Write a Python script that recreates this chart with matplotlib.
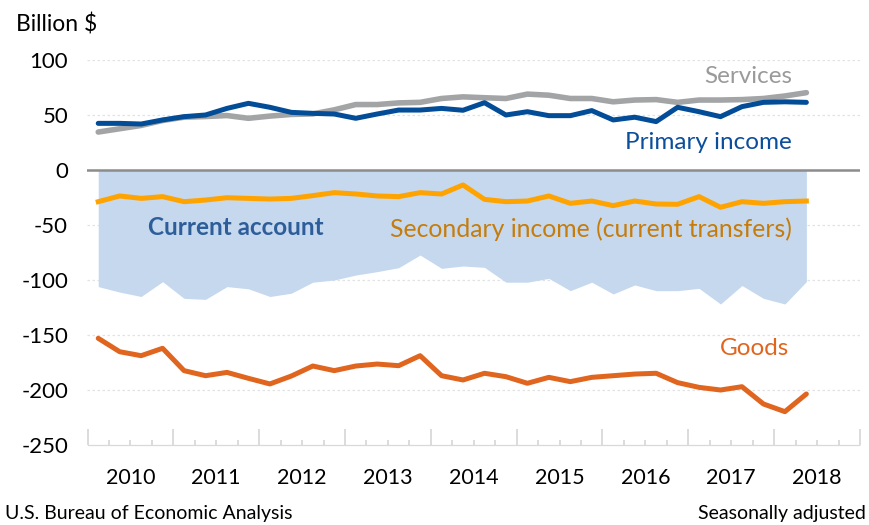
import numpy as np
import matplotlib
matplotlib.use("Agg")
import matplotlib.pyplot as plt
import matplotlib.transforms as mtransforms

plt.rcParams['font.family'] = ['Lato', 'DejaVu Sans']

# quarterly data, 2010Q1 .. 2018Q2 (billion $)
years = [2010, 2011, 2012, 2013, 2014, 2015, 2016, 2017, 2018]
services = [34.5, 37.5, 40.5, 45, 48, 48.6, 49.5, 47, 49, 50.5, 51, 54.7,
            59.5, 59.5, 61, 61.5, 65, 66.5, 65.7, 65, 69, 68, 65, 65,
            62, 63.6, 64, 61.5, 63.6, 63.6, 64, 65, 67.3, 70.3]
primary = [42.4, 42.4, 41.8, 45.5, 48.5, 50, 56, 60.6, 57, 52.4, 51.5, 50.9,
           47, 50.9, 54.5, 54.5, 56, 54.3, 61.2, 50, 53, 49.4, 49.4, 54,
           45.5, 48, 44, 57, 53, 48.5, 57.6, 61.5, 62, 61.5]
secondary = [-28.8, -23.6, -25.8, -24.2, -28.8, -27.3, -25.2, -25.8, -26.4, -25.8, -23.3, -20.6,
             -21.8, -23.6, -24.2, -20.6, -21.8, -13.6, -26.7, -28.8, -28.2, -23.6, -30.3, -28.2,
             -32.4, -28.2, -30.9, -31.2, -24.2, -33.9, -28.8, -30.3, -28.8, -28.2]
goods = [-153, -165.2, -168.8, -162.1, -182.4, -187, -184, -189.4, -194.5, -187.3, -178.2, -182.4,
         -178.2, -176.4, -177.9, -168.8, -187, -190.9, -184.8, -187.9, -193.9, -188.5, -192.4, -188.5,
         -187, -185.5, -184.8, -193.3, -197.6, -200, -197, -212.7, -219.7, -203.6]
current = [-106, -111, -115, -101.5, -116.7, -117.6, -106, -108, -115, -112, -102, -100,
           -95.5, -92.4, -88.8, -77.3, -89.4, -87.3, -88.5, -102, -102, -98.5, -109.7, -102,
           -112.7, -104.5, -109.7, -109.7, -107.6, -121.8, -105, -116.7, -121.8, -101.5]

x = np.arange(len(services))

fig = plt.figure(figsize=(8.7, 5.25), dpi=100)
ax = fig.add_axes([87.5 / 870, 1 - 445 / 525, (860 - 87.5) / 870, 385 / 525])

# shaded current account
ax.fill_between(x, 0, current, color='#C5D8EE', lw=0, zorder=1)

# grid and zero line
for v in [100, 50, -50, -100, -150, -200]:
    ax.axhline(v, color='#E2E2E2', lw=0.9, ls=(0, (2, 2)), zorder=0)
ax.axhline(0, color='#8C8C8C', lw=1.8, zorder=2)

ax.plot(x, secondary, color='#FFA300', lw=3.6, zorder=3)
ax.plot(x, services, color='#A2A4A5', lw=4.0, zorder=3, solid_capstyle='round')
ax.plot(x, primary, color='#034C97', lw=3.6, zorder=4, solid_capstyle='round')
ax.plot(x, goods, color='#E0651E', lw=3.6, zorder=3, solid_capstyle='round')

ax.set_xlim(-0.5, 35.5)
ax.set_ylim(-250, 100)

for s in ['left', 'right', 'top']:
    ax.spines[s].set_visible(False)
ax.spines['bottom'].set_color('#D9D9D9')
ax.spines['bottom'].set_linestyle((0, (2, 1)))
ax.spines['bottom'].set_linewidth(0.9)

ax.set_yticks([100, 50, 0, -50, -100, -150, -200, -250])
ax.set_yticklabels(['100', '50', '0', '-50', '-100', '-150', '-200', '-250'])
ax.tick_params(axis='y', length=0, pad=14, labelsize=16, labelcolor='#000000')

ax.set_xticks(np.arange(-0.5, 36, 4))
ax.set_xticks(np.arange(-0.5, 36, 1), minor=True)
ax.set_xticklabels([])
ax.tick_params(axis='x', which='major', direction='in', length=11.5, width=1.3, color='#D9D9D9')
ax.tick_params(axis='x', which='minor', direction='in', length=3.8, width=1.3, color='#D9D9D9')

trans = mtransforms.blended_transform_factory(ax.transData, ax.transAxes)
for k, yr in enumerate(years):
    ax.text(4 * k + 1.5, -0.087, str(yr), transform=trans, ha='center', va='center',
            fontsize=15.5, color='#000000')

# series labels
ax.text(32.33, 85, 'Services', ha='right', va='center', fontsize=17.5, color='#9A9A9A')
ax.text(32.3, 24.8, 'Primary income', ha='right', va='center', fontsize=17.5, color='#0B4E9C')
ax.text(2.34, -52.5, 'Current account', ha='left', va='center', fontsize=17.5,
        color='#2E5E9A', fontweight='bold')
ax.text(32.33, -53.5, 'Secondary income (current transfers)', ha='right', va='center',
        fontsize=17.8, color='#C57C0A')
ax.text(32.2, -162, 'Goods', ha='right', va='center', fontsize=17.5, color='#E0651E')

fig.text(16 / 870, 1 - 25 / 525, 'Billion $', ha='left', va='center', fontsize=16.5)
fig.text(5 / 870, 1 - 513 / 525, 'U.S. Bureau of Economic Analysis', ha='left', va='center',
         fontsize=14)
fig.text(866 / 870, 1 - 513 / 525, 'Seasonally adjusted', ha='right', va='center', fontsize=14)

fig.savefig('out.png', dpi=100)
